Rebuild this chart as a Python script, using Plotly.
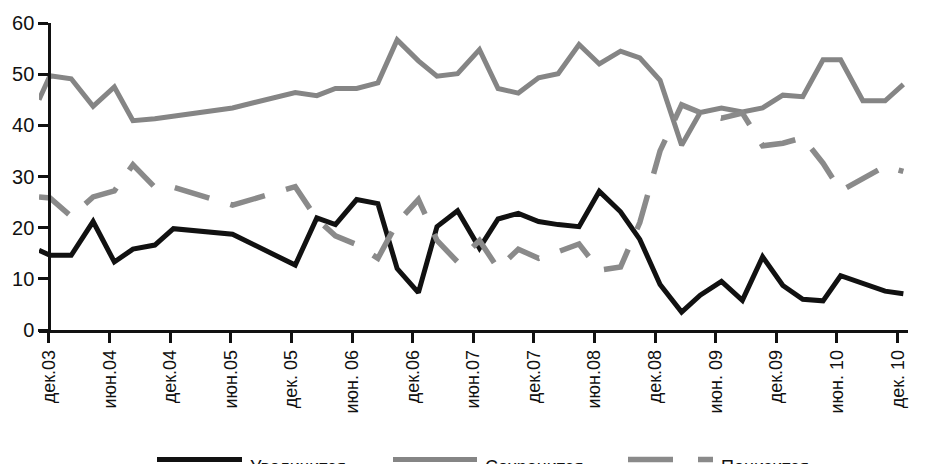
import plotly.graph_objects as go

# даты опросов
dates = [
    "2003-11-01", "2003-12-04", "2004-02-06", "2004-04-12", "2004-06-15",
    "2004-08-10", "2004-10-15", "2004-12-10", "2005-06-06", "2005-12-12",
    "2006-02-15", "2006-04-12", "2006-06-15", "2006-08-18", "2006-10-15",
    "2006-12-18", "2007-02-12", "2007-04-15", "2007-06-20", "2007-08-15",
    "2007-10-15", "2007-12-15", "2008-02-12", "2008-04-15", "2008-06-15",
    "2008-08-18", "2008-10-15", "2008-12-15", "2009-02-18", "2009-04-15",
    "2009-06-18", "2009-08-20", "2009-10-20", "2009-12-20", "2010-02-18",
    "2010-04-20", "2010-06-12", "2010-08-18", "2010-10-24", "2010-12-18",
]

series_names = ["Увеличится", "Сохранится", "Понизится"]

up_values = [
    15.6, 14.6, 14.6, 21.2, 13.3, 15.8, 16.6, 19.8, 18.7, 12.7,
    21.9, 20.6, 25.5, 24.7, 12.0, 7.3, 20.2, 23.3, 16.0, 21.7,
    22.8, 21.2, 20.6, 20.2, 27.1, 23.1, 17.7, 8.9, 3.5, 6.8,
    9.5, 5.8, 14.3, 8.7, 6.0, 5.7, 10.6, 9.0, 7.6, 7.1,
]

same_values = [
    45.0, 49.7, 49.1, 43.7, 47.5, 40.9, 41.3, 41.8, 43.4, 46.4,
    45.8, 47.2, 47.2, 48.3, 56.7, 52.6, 49.6, 50.1, 54.8, 47.2,
    46.3, 49.3, 50.1, 55.8, 52.0, 54.5, 53.2, 48.8, 36.1, 42.5,
    43.4, 42.6, 43.4, 45.9, 45.6, 52.8, 52.8, 44.8, 44.8, 48.0,
]

down_values = [
    26.0, 25.8, 22.2, 26.0, 27.2, 32.3, 27.9, 27.9, 24.4, 28.0,
    21.7, 18.4, 16.7, 14.0, 21.0, 25.5, 17.5, 13.3, 17.5, 12.0,
    15.8, 14.0, 15.3, 16.8, 11.7, 12.3, 21.0, 35.0, 44.0, 42.5,
    41.4, 42.4, 36.0, 36.5, 37.6, 32.6, 27.2, 29.6, 32.0, 31.0,
]

tick_dates = [
    "2003-12-01", "2004-06-01", "2004-12-01", "2005-06-01", "2005-12-01",
    "2006-06-01", "2006-12-01", "2007-06-01", "2007-12-01", "2008-06-01",
    "2008-12-01", "2009-06-01", "2009-12-01", "2010-06-01", "2010-12-01",
]
tick_labels = [
    "дек.03", "июн.04", "дек.04", "июн.05", "дек. 05", "июн. 06", "дек.06",
    "июн.07", "дек.07", "июн.08", "дек.08", "июн. 09", "дек.09", "июн. 10",
    "дек. 10",
]

styles = [
    dict(color="#111111", width=5, dash="solid"),
    dict(color="#858585", width=5, dash="solid"),
    dict(color="#8a8a8a", width=5.5, dash="36px,22px"),
]

fig = go.Figure()

for name, values, style in zip(series_names, [up_values, same_values, down_values], styles):
    fig.add_trace(
        go.Scatter(
            x=dates,
            y=values,
            mode="lines",
            name=name,
            line=style,
            showlegend=False,
        )
    )

# легенда внизу, как в исходнике (линии длиннее стандартных)
legend_x = [(157, 242), (393, 477), (628, 713)]
plot_left, plot_width = 39, 869
plot_bottom, plot_height = 330, 315
legend_y = (plot_bottom - 463) / plot_height
text_y = (plot_bottom - 471) / plot_height

for (x0, x1), name, style in zip(legend_x, series_names, styles):
    fig.add_shape(
        type="line",
        xref="paper", yref="paper",
        x0=(x0 - plot_left) / plot_width,
        x1=(x1 - plot_left) / plot_width,
        y0=legend_y, y1=legend_y,
        line=dict(color=style["color"], width=style["width"],
                  dash="solid" if style["dash"] == "solid" else "45px,25px"),
    )
    fig.add_annotation(
        xref="paper", yref="paper",
        x=(x1 + 6 - plot_left) / plot_width,
        y=text_y,
        xanchor="left", yanchor="middle",
        text=name,
        showarrow=False,
        font=dict(size=18, color="#111111"),
    )

fig.update_layout(
    width=947,
    height=464,
    margin=dict(l=plot_left, r=947 - plot_left - plot_width, t=15, b=464 - plot_bottom),
    paper_bgcolor="white",
    plot_bgcolor="white",
    font=dict(family="Liberation Sans, Arial, sans-serif", color="#111111"),
    xaxis=dict(
        type="date",
        range=["2003-11-01", "2011-01-01"],
        tickvals=tick_dates,
        ticktext=tick_labels,
        tickangle=-90,
        tickfont=dict(size=18),
        showgrid=False,
        zeroline=False,
        showline=True,
        linecolor="#111111",
        linewidth=2.5,
        ticks="outside",
        ticklen=10,
        tickwidth=2.5,
        tickcolor="#111111",
    ),
    yaxis=dict(
        range=[0, 60],
        tickvals=[0, 10, 20, 30, 40, 50, 60],
        tickfont=dict(size=20),
        showgrid=False,
        zeroline=False,
        showline=True,
        linecolor="#111111",
        linewidth=2.5,
        ticks="outside",
        ticklen=10,
        tickwidth=2.5,
        tickcolor="#111111",
        anchor="free",
        position=1 / 86,
    ),
)

# убираем стандартный отступ body, чтобы график стоял в углу окна
fig.write_html(
    "out.html",
    config={"displayModeBar": False},
    post_script="document.body.style.margin = '0';",
)
